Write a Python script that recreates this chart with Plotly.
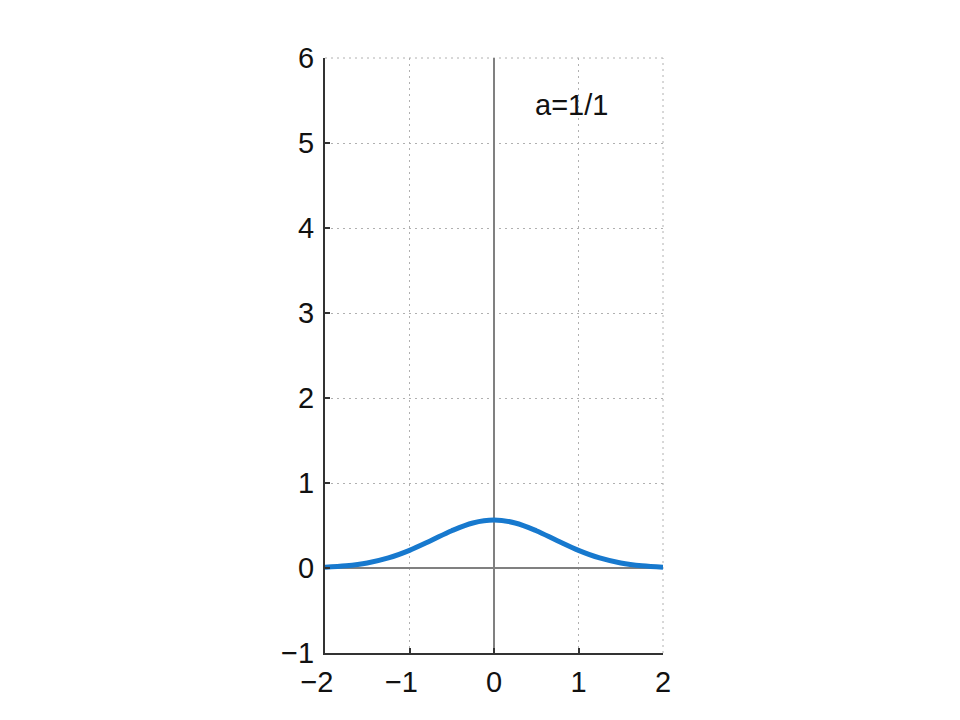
import plotly.graph_objects as go

# Curve values
x_vals = [-2.0, -1.75, -1.5, -1.25, -1.0, -0.75, -0.5, -0.25, 0.0,
          0.25, 0.5, 0.75, 1.0, 1.25, 1.5, 1.75, 2.0]
y_vals = [0.010, 0.026, 0.059, 0.118, 0.208, 0.321, 0.439, 0.530, 0.564,
          0.530, 0.439, 0.321, 0.208, 0.118, 0.059, 0.026, 0.010]

x_ticks = [-2, -1, 0, 1, 2]
# digits are centred on the ticks, the minus sign hangs to the left
x_tick_labels = ["\u22122\u00a0\u00a0", "\u22121\u00a0\u00a0", "0", "1", "2"]
y_ticks = [-1, 0, 1, 2, 3, 4, 5, 6]
y_tick_labels = ["\u22121", "0", "1", "2", "3", "4", "5", "6"]
label_text = "a=1/1"

fig = go.Figure()
fig.add_trace(go.Scatter(
    x=x_vals, y=y_vals, mode="lines",
    line=dict(color="#1779CE", width=5, shape="spline"),
    showlegend=False, hoverinfo="skip"))

font = "Liberation Sans, Arial, Helvetica, sans-serif"
grid_dash = "2px,4px"
axis_common = dict(
    showgrid=True, gridcolor="#b0b0b0", griddash=grid_dash, gridwidth=1,
    showline=True, linecolor="#333333", linewidth=2,
    ticks="inside", ticklen=5, tickcolor="#333333", tickwidth=1.5,
    zeroline=True, zerolinecolor="#808080", zerolinewidth=2,
    tickfont=dict(family=font, size=29, color="#111111"),
    mirror=False, fixedrange=True,
)

fig.update_xaxes(range=[-2, 2], tickvals=x_ticks, ticktext=x_tick_labels,
                 ticklabelstandoff=2, **axis_common)
fig.update_yaxes(range=[-1, 6], tickvals=y_ticks, ticktext=y_tick_labels,
                 ticklabelstandoff=3, **axis_common)

# dotted border lines along the top and right edges (as grid in the original)
fig.add_shape(type="line", xref="paper", yref="paper", x0=0, x1=1, y0=1, y1=1,
              line=dict(color="#b0b0b0", width=1, dash=grid_dash), layer="below")
fig.add_shape(type="line", xref="paper", yref="paper", x0=1, x1=1, y0=0, y1=1,
              line=dict(color="#b0b0b0", width=1, dash=grid_dash), layer="below")

fig.add_annotation(x=0.92, y=5.45, text=label_text, showarrow=False,
                   font=dict(family=font, size=29, color="#111111"))

fig.update_layout(
    width=960, height=720,
    margin=dict(l=317, r=305, t=50, b=75),
    paper_bgcolor="white", plot_bgcolor="white",
)

fig.write_html("out.html")
